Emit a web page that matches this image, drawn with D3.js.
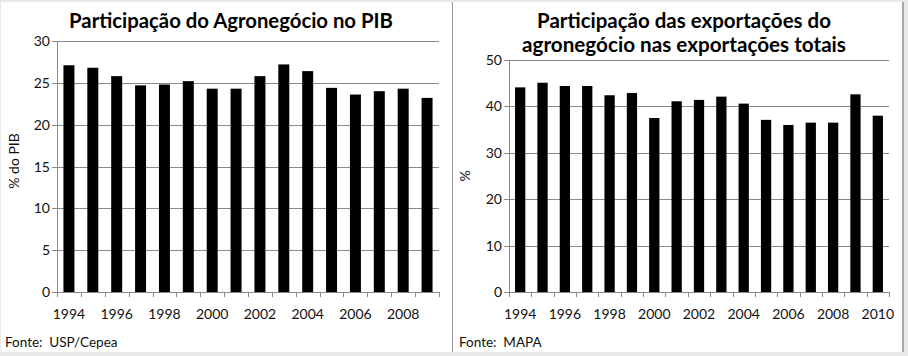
<!DOCTYPE html>
<html><head><meta charset="utf-8">
<script src="https://cdn.jsdelivr.net/npm/d3@7"></script>
<style>
html,body{margin:0;padding:0;background:#fff;}
svg{display:block;font-family:Lato,"Open Sans",sans-serif;}
</style></head>
<body>
<svg id="c" width="908" height="356"></svg>
<script>
const yearsA = ["1994","1995","1996","1997","1998","1999","2000","2001","2002","2003","2004","2005","2006","2007","2008","2009"];
const valuesA = [27.1,26.8,25.8,24.7,24.8,25.2,24.3,24.3,25.8,27.2,26.4,24.4,23.6,24.0,24.3,23.2];
const ticksA = [0,5,10,15,20,25,30];
const yearsB = ["1994","1995","1996","1997","1998","1999","2000","2001","2002","2003","2004","2005","2006","2007","2008","2009","2010"];
const valuesB = [44.1,45.1,44.4,44.4,42.4,42.9,37.5,41.1,41.4,42.1,40.6,37.1,36.0,36.5,36.5,42.6,38.0];
const ticksB = [0,10,20,30,40,50];
const titleA = ["Participação do Agronegócio no PIB"];
const titleB = ["Participação das exportações do","agronegócio nas exportações totais"];
const yLabelA = "% do PIB", yLabelB = "%";
const sourceA = "Fonte:  USP/Cepea", sourceB = "Fonte:  MAPA";

const svg = d3.select("#c");
// frame
svg.append("rect").attr("x",0).attr("y",0).attr("width",908).attr("height",356).attr("fill","#e9e9e9");
svg.append("rect").attr("x",1).attr("y",2).attr("width",902).attr("height",350).attr("fill","#fff");
svg.append("line").attr("x1",903).attr("x2",903).attr("y1",2).attr("y2",352).attr("stroke","#a8a8a8").attr("stroke-width",2);
svg.append("line").attr("x1",452.5).attr("x2",452.5).attr("y1",2).attr("y2",352).attr("stroke","#9a9a9a").attr("stroke-width",1);

function panel(cfg){
  const g = svg.append("g");
  const x = d3.scaleBand().domain(cfg.cats).range([cfg.x0,cfg.x1]).paddingInner(0.54).paddingOuter(0.27);
  const y = d3.scaleLinear().domain([0,cfg.max]).range([cfg.yb,cfg.yt]);
  // gridlines
  g.selectAll(".grid").data(cfg.ticks).enter().append("line")
    .attr("x1",cfg.x0-5).attr("x2",cfg.x1)
    .attr("y1",d=>Math.round(y(d))+0.5).attr("y2",d=>Math.round(y(d))+0.5)
    .attr("stroke","#8a8a8a").attr("stroke-width",1);
  // y axis line
  g.append("line").attr("x1",cfg.x0+0.5).attr("x2",cfg.x0+0.5)
    .attr("y1",y(cfg.max)).attr("y2",Math.round(y(0))+0.5).attr("stroke","#8a8a8a");
  // bars
  g.selectAll(".bar").data(cfg.vals).enter().append("rect")
    .attr("x",(d,i)=>x(cfg.cats[i])).attr("width",x.bandwidth())
    .attr("y",d=>y(d)).attr("height",d=>y(0)-y(d)).attr("fill","#000");
  // x tick marks at category boundaries
  const half = x.step()*x.paddingInner()/2;
  const bounds = cfg.cats.map(c=>x(c)-half).concat([cfg.x1]);
  g.selectAll(".xt").data(bounds).enter().append("line")
    .attr("x1",d=>Math.round(d)+0.5).attr("x2",d=>Math.round(d)+0.5)
    .attr("y1",Math.round(y(0))).attr("y2",Math.round(y(0))+5).attr("stroke","#8a8a8a");
  // y tick labels
  g.selectAll(".yl").data(cfg.ticks).enter().append("text")
    .attr("x",cfg.x0-7).attr("y",d=>y(d)+5).attr("text-anchor","end")
    .attr("font-size",14).attr("fill","#111").text(d=>d);
  // x labels every other
  g.selectAll(".xl").data(cfg.cats.filter((c,i)=>i%2===0)).enter().append("text")
    .attr("x",d=>x(d)+x.bandwidth()/2).attr("y",cfg.yb+27).attr("text-anchor","middle")
    .attr("font-size",14).attr("fill","#111").text(d=>d);
  // y label
  g.append("text").attr("transform",`translate(${cfg.ylx},${cfg.yly}) rotate(-90)`)
    .attr("text-anchor","middle").attr("font-size",14).attr("fill","#111").text(cfg.ylabel);
  // title
  cfg.title.forEach((t,i)=>{
    const tt = g.append("text").attr("x",cfg.tx).attr("y",cfg.ty+i*24).attr("text-anchor","middle")
      .attr("font-size",19).attr("font-weight","bold").attr("fill","#000").text(t);
    const w = tt.node().getComputedTextLength();
    tt.attr("font-size",19*cfg.tw[i]/w);
  });
  // source
  g.append("text").attr("x",cfg.sx).attr("y",347).attr("font-size",13.5).attr("fill","#111")
    .attr("xml:space","preserve").style("white-space","pre").text(cfg.source);
}

panel({cats:yearsA, vals:valuesA, ticks:ticksA, max:30, x0:57, x1:439, yb:292, yt:41,
  ylabel:yLabelA, ylx:19, yly:161, title:titleA, tx:231, ty:28, tw:[324], sx:5, source:sourceA});
panel({cats:yearsB, vals:valuesB, ticks:ticksB, max:50, x0:509, x1:889, yb:292, yt:60,
  ylabel:yLabelB, ylx:470, yly:176, title:titleB, tx:684, ty:28, tw:[294,324], sx:459, source:sourceB});
</script>
</body></html>
